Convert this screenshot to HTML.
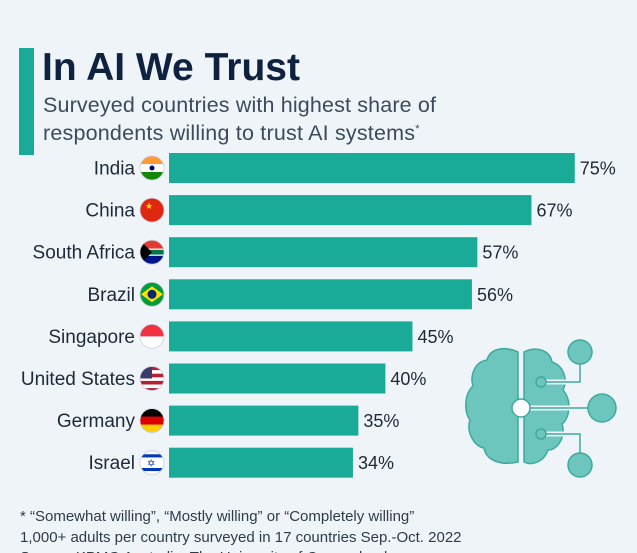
<!DOCTYPE html>
<html><head><meta charset="utf-8">
<style>
html,body{margin:0;padding:0;background:#eef4f8;}
body{width:637px;height:553px;overflow:hidden;position:relative;font-family:"Liberation Sans",sans-serif;}
</style></head>
<body>
<svg width="637" height="553" viewBox="0 0 637 553" style="position:absolute;left:0;top:0">
<rect x="0" y="0" width="637" height="553" fill="#eef4f8"/>
<rect x="19" y="48" width="15" height="107" fill="#1aab98"/>
<text x="42" y="80" font-size="39" font-weight="bold" fill="#0e2240" textLength="258">In AI We Trust</text>
<text x="43" y="112" font-size="21.5" fill="#3b4a5c" textLength="393">Surveyed countries with highest share of</text>
<text x="43" y="140" font-size="21.5" fill="#3b4a5c"><tspan textLength="372">respondents willing to trust AI systems</tspan><tspan font-size="11" dy="-8">*</tspan></text>
<g id="bars"></g>
<g fill="#6cc6bd" stroke="#3fa99d" stroke-width="1.5">
<path d="M518 352 C505 346 490 348 487 360 C474 362 470 376 473 386 C464 394 464 412 470 420 C466 432 474 446 484 448 C486 460 500 466 518 462 Z"/>
<path d="M524 352 C536 346 550 350 552 362 C564 366 568 380 563 390 C572 400 570 418 562 424 C566 436 558 450 548 450 C544 462 532 466 524 462 Z"/>
<line x1="521" y1="352" x2="521" y2="462" stroke="#eef4f8" stroke-width="3"/>
<path d="M541 382 H580 V352 M530 408 H602 M541 434 H580 V465" fill="none" stroke="#eef4f8" stroke-width="5"/>
<path d="M541 382 H580 V352 M530 408 H602 M541 434 H580 V465" fill="none" stroke="#3fa99d" stroke-width="1.5"/>
<circle cx="580" cy="352" r="12"/>
<circle cx="602" cy="408" r="14"/>
<circle cx="580" cy="465" r="12"/>
<circle cx="541" cy="382" r="5"/>
<circle cx="541" cy="434" r="5"/>
<circle cx="521" cy="408" r="9" fill="#ffffff"/>
</g>
<text x="20" y="521" font-size="15" fill="#2f3b48">* “Somewhat willing”, “Mostly willing” or “Completely willing”</text>
<text x="20" y="542" font-size="15" fill="#2f3b48">1,000+ adults per country surveyed in 17 countries Sep.-Oct. 2022</text>
<text x="20" y="562" font-size="15" fill="#2f3b48">Source: KPMG Australia, The University of Queensland</text>
</svg>
<script>
const categories = ["India","China","South Africa","Brazil","Singapore","United States","Germany","Israel"];
const values = [75,67,57,56,45,40,35,34];
const valueLabels = ["75%","67%","57%","56%","45%","40%","35%","34%"];
const NS="http://www.w3.org/2000/svg";
const x0=169, scale=5.41, rowTop=153, rowStep=42.1, barH=30;
function xPos(v){return x0+v*scale;}
function yPos(i){return rowTop+i*rowStep;}
const flags={
 "India":[["#ff9933",0,1/3],["#ffffff",1/3,2/3],["#138808",2/3,1]],
 "China":[["#de2910",0,1]],
 "South Africa":[["#e03c31",0,0.35],["#ffffff",0.35,0.4],["#007749",0.4,0.6],["#ffffff",0.6,0.65],["#001489",0.65,1]],
 "Brazil":[["#009c3b",0,1]],
 "Singapore":[["#ef3340",0,0.5],["#ffffff",0.5,1]],
 "United States":[["#b22234",0,0.15],["#fff",0.15,0.3],["#b22234",0.3,0.45],["#fff",0.45,0.6],["#b22234",0.6,0.75],["#fff",0.75,0.9],["#b22234",0.9,1]],
 "Germany":[["#000",0,1/3],["#dd0000",1/3,2/3],["#ffce00",2/3,1]],
 "Israel":[["#fff",0,0.15],["#0038b8",0.15,0.28],["#fff",0.28,0.72],["#0038b8",0.72,0.85],["#fff",0.85,1]]
};
const g=document.getElementById('bars');
categories.forEach((c,i)=>{
 const y=yPos(i), cy=y+barH/2;
 const r=document.createElementNS(NS,'rect');
 r.setAttribute('x',x0);r.setAttribute('y',y);r.setAttribute('width',xPos(values[i])-x0);r.setAttribute('height',barH);r.setAttribute('fill','#1aab98');
 
 
 g.appendChild(r);
 const t=document.createElementNS(NS,'text');
 t.setAttribute('x',135);t.setAttribute('y',cy+6.5);t.setAttribute('text-anchor','end');t.setAttribute('font-size','19');t.setAttribute('fill','#1e2a38');
 t.textContent=c;
 
 
 g.appendChild(t);
 const v=document.createElementNS(NS,'text');
 v.setAttribute('x',xPos(values[i])+5);v.setAttribute('y',cy+6.5);v.setAttribute('font-size','18');v.setAttribute('fill','#1e2a38');
 v.textContent=valueLabels[i];
 
 
 g.appendChild(v);
 const fg=document.createElementNS(NS,'g');
 
 
 const cid='clip'+i;
 const cp=document.createElementNS(NS,'clipPath');cp.setAttribute('id',cid);
 const cc=document.createElementNS(NS,'circle');cc.setAttribute('cx',152);cc.setAttribute('cy',cy);cc.setAttribute('r',12);cp.appendChild(cc);fg.appendChild(cp);
 const inner=document.createElementNS(NS,'g');inner.setAttribute('clip-path','url(#'+cid+')');
 flags[c].forEach(s=>{const sr=document.createElementNS(NS,'rect');sr.setAttribute('x',140);sr.setAttribute('y',cy-12+s[1]*24);sr.setAttribute('width',24);sr.setAttribute('height',(s[2]-s[1])*24+0.3);sr.setAttribute('fill',s[0]);inner.appendChild(sr);});
 if(c==="United States"){const b=document.createElementNS(NS,'rect');b.setAttribute('x',140);b.setAttribute('y',cy-12);b.setAttribute('width',12);b.setAttribute('height',12);b.setAttribute('fill','#3c3b6e');inner.appendChild(b);}
 if(c==="Brazil"){const p=document.createElementNS(NS,'polygon');p.setAttribute('points',`141,${cy} 152,${cy-8} 163,${cy} 152,${cy+8}`);p.setAttribute('fill','#ffdf00');inner.appendChild(p);const bc=document.createElementNS(NS,'circle');bc.setAttribute('cx',152);bc.setAttribute('cy',cy);bc.setAttribute('r',4.5);bc.setAttribute('fill','#002776');inner.appendChild(bc);}
 if(c==="China"){const s=document.createElementNS(NS,'text');s.setAttribute('x',145);s.setAttribute('y',cy-1);s.setAttribute('font-size','9');s.setAttribute('fill','#ffde00');s.textContent='★';inner.appendChild(s);}
 if(c==="South Africa"){const p=document.createElementNS(NS,'polygon');p.setAttribute('points',`140,${cy-12} 152,${cy} 140,${cy+12}`);p.setAttribute('fill','#000');inner.appendChild(p);}
 if(c==="India"){const w=document.createElementNS(NS,'circle');w.setAttribute('cx',152);w.setAttribute('cy',cy);w.setAttribute('r',2.5);w.setAttribute('fill','#000080');inner.appendChild(w);}
 if(c==="Israel"){const s=document.createElementNS(NS,'text');s.setAttribute('x',147);s.setAttribute('y',cy+4);s.setAttribute('font-size','10');s.setAttribute('fill','#0038b8');s.textContent='✡';inner.appendChild(s);}
 fg.appendChild(inner);
 const ring=document.createElementNS(NS,'circle');ring.setAttribute('cx',152);ring.setAttribute('cy',cy);ring.setAttribute('r',12);ring.setAttribute('fill','none');ring.setAttribute('stroke','#ccd');ring.setAttribute('stroke-width','0.8');fg.appendChild(ring);
 g.appendChild(fg);
});
</script>
</body></html>
